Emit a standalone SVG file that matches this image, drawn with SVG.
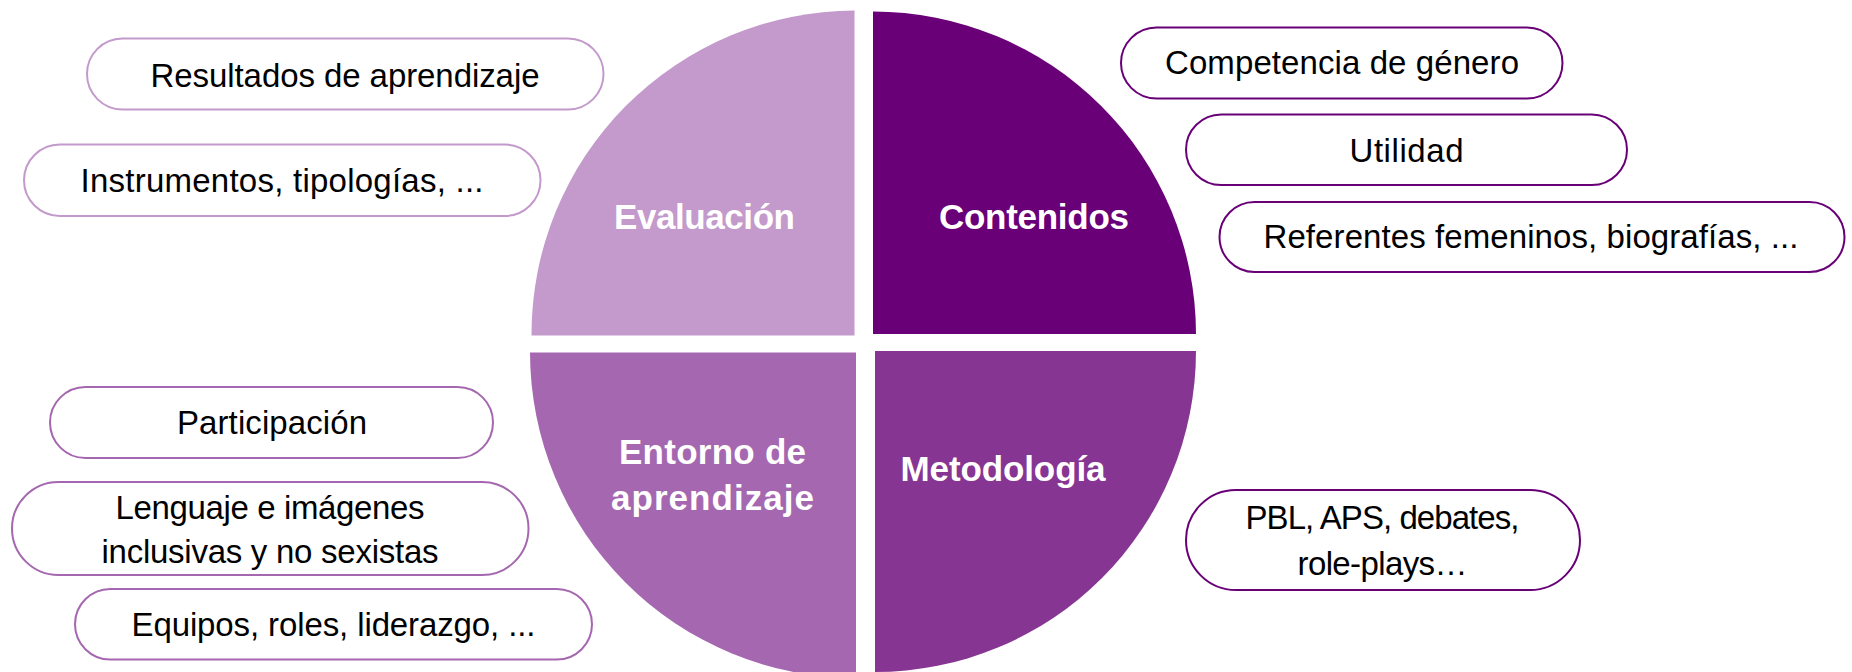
<svg xmlns="http://www.w3.org/2000/svg" width="1852" height="672" viewBox="0 0 1852 672">
<style>
text{font-family:"Liberation Sans",Arial,sans-serif;text-anchor:middle}
.lbl{font-size:35px;font-weight:bold;fill:#ffffff}
.item{font-size:33px;fill:#000000}
.box{fill:#ffffff;stroke-width:2}
.b-eval{stroke:#C39ACB}
.b-cont{stroke:#690078}
.b-ent{stroke:#A567AF}
.b-met{stroke:#690078}
</style>
<rect width="1852" height="672" fill="#ffffff"/>
<g id="connectors"/>
<g id="q-evaluacion">
<path d="M854.5,335.5 L531.5,335.5 A324,324 0 0 1 854.5,10.5 Z" fill="#C39ACB"/>
<text class="lbl" x="704.5" y="229" textLength="181">Evaluación</text>
</g>
<g id="q-contenidos">
<path d="M873,334 L873,11.5 A323,323 0 0 1 1196,334 Z" fill="#690078"/>
<text class="lbl" x="1034" y="229" textLength="190">Contenidos</text>
</g>
<g id="q-entorno">
<path d="M856,352.5 L856,678 A326,326 0 0 1 530,352.5 Z" fill="#A567AF"/>
<text class="lbl" x="712.5" y="464" textLength="187">Entorno de</text>
<text class="lbl" x="712.5" y="510" textLength="203">aprendizaje</text>
</g>
<g id="q-metodologia">
<path d="M875,351 L1196,351 A321,321 0 0 1 875,672 Z" fill="#873593"/>
<text class="lbl" x="1003" y="481" textLength="205">Metodología</text>
</g>
<g id="n-resultados">
<rect class="box b-eval" x="87" y="38.5" width="516.5" height="71" rx="35.5"/>
<text class="item" x="345" y="87" textLength="389">Resultados de aprendizaje</text>
</g>
<g id="n-instrumentos">
<rect class="box b-eval" x="24" y="144.5" width="516.5" height="71.5" rx="35.75"/>
<text class="item" x="282" y="192" textLength="403">Instrumentos, tipologías, ...</text>
</g>
<g id="n-competencia">
<rect class="box b-cont" x="1121" y="27.5" width="441.5" height="71" rx="35.5"/>
<text class="item" x="1342" y="74" textLength="354">Competencia de género</text>
</g>
<g id="n-utilidad">
<rect class="box b-cont" x="1186" y="114.5" width="441" height="70.5" rx="35.25"/>
<text class="item" x="1406.5" y="162" textLength="114">Utilidad</text>
</g>
<g id="n-referentes">
<rect class="box b-cont" x="1219.5" y="202" width="625" height="70" rx="35"/>
<text class="item" x="1531" y="248" textLength="535">Referentes femeninos, biografías, ...</text>
</g>
<g id="n-participacion">
<rect class="box b-ent" x="50" y="387" width="443" height="71" rx="35.5"/>
<text class="item" x="272" y="434" textLength="190">Participación</text>
</g>
<g id="n-lenguaje">
<rect class="box b-ent" x="12" y="482" width="516.5" height="93" rx="46.5"/>
<text class="item" x="270" y="519" textLength="309">Lenguaje e imágenes</text>
<text class="item" x="270" y="563" textLength="337">inclusivas y no sexistas</text>
</g>
<g id="n-equipos">
<rect class="box b-ent" x="75" y="589" width="517" height="70.5" rx="35.25"/>
<text class="item" x="333.5" y="636" textLength="404">Equipos, roles, liderazgo, ...</text>
</g>
<g id="n-pbl">
<rect class="box b-met" x="1186" y="490" width="394" height="100" rx="50"/>
<text class="item" x="1382.5" y="529" textLength="274">PBL, APS, debates,</text>
<text class="item" x="1382.5" y="575" textLength="170">role-plays…</text>
</g>
</svg>
